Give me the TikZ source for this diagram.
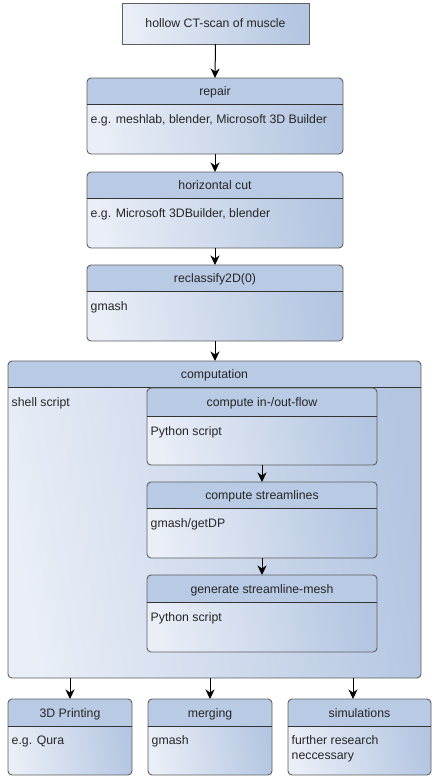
\documentclass[tikz,border=0pt]{standalone}
\usepackage{fontspec}
\setmainfont{Liberation Sans}
\usetikzlibrary{arrows.meta}
\definecolor{hdr}{HTML}{B8CAE4}
\definecolor{gdark}{HTML}{B3C5E1}
\definecolor{glight}{HTML}{E9EEF7}
\definecolor{bord}{HTML}{5E5E5E}
\definecolor{sepcol}{HTML}{333333}
\definecolor{txt}{HTML}{262626}
\tikzset{
 boxshade/.style={inner sep=0pt, outer sep=0pt, top color=gdark, bottom color=glight, shading angle=-80},
 boxborder/.style={draw=bord, line width=0.9pt},
 titletxt/.style={font=\fontsize{12.3}{15}\selectfont, anchor=base, inner sep=0pt, text=txt},
 bodytxt/.style={font=\fontsize{12.3}{15}\selectfont, anchor=base west, inner sep=0pt, align=left, text=txt},
 arr/.style={-{Stealth[length=9.5pt,width=9pt,inset=3pt]}, line width=1pt, black},
}
% name, x1, y1, x2, y2, yh, title, body, baseline offset of last body line
\newcommand\umlbox[9]{%
 \node[boxshade, rounded corners=4pt, minimum width={(#4-#2)*1pt}, minimum height={(#5-#3)*1pt}] (#1) at ({(#2+#4)/2},{(#3+#5)/2}) {};
 \begin{scope}
 \clip[rounded corners=4pt] (#2,#3) rectangle (#4,#5);
 \fill[hdr] (#2,#3) rectangle (#4,#6);
 \end{scope}
 \draw[boxborder, rounded corners=4pt] (#1.north west) rectangle (#1.south east);
 \draw[sepcol, line width=0.9pt] (#2,#6) -- (#4,#6);
 \node[titletxt] (#1-t) at ({(#2+#4)/2},{(#3+#6)/2+4.5}) {#7};
 \node[bodytxt] (#1-b) at ({#2+3.5},{#6+#9}) {#8};
}
\begin{document}
\begin{tikzpicture}[x=1pt,y=-1pt]
\useasboundingbox (0,0) rectangle (440,777);
\node[boxshade, draw=bord, line width=0.9pt, minimum width=187pt, minimum height=41pt,
  font=\fontsize{12.3}{15}\selectfont, text=txt] (scan) at (215.5,23.5) {hollow CT-scan of muscle};
\umlbox{repair}{87}{78}{343}{154}{104}{repair}{e.g. meshlab, blender, Microsoft 3D Builder}{19}
\umlbox{hcut}{87}{172}{343}{248}{198}{horizontal cut}{e.g. Microsoft 3DBuilder, blender}{19}
\umlbox{reclass}{87}{265}{343}{341}{291}{reclassify2D(0)}{gmash}{19}
\umlbox{comp}{8}{361}{421}{678}{387}{computation}{shell script}{19}
\umlbox{inflow}{147}{388}{377}{465}{416}{compute in-/out-flow}{Python script}{19}
\umlbox{stream}{147}{482}{377}{558}{508}{compute streamlines}{gmash/getDP}{19}
\umlbox{gen}{147}{575}{377}{652}{602}{generate streamline-mesh}{Python script}{19}
\umlbox{print}{8}{699}{132}{775}{726}{3D Printing}{e.g. Qura}{18.5}
\umlbox{merge}{148}{699}{272}{775}{726}{merging}{gmash}{18.5}
\umlbox{sim}{288}{699}{431}{775}{726}{simulations}{further research\\neccessary}{33.5}
\coordinate (s3) at (353,700);
\draw[arr] (scan.south) -- (repair.north);
\draw[arr] (repair.south) -- (hcut.north);
\draw[arr] (hcut.south) -- (reclass.north);
\draw[arr] (reclass.south) -- (comp.north -| reclass.south);
\draw[arr] (inflow.south) -- (stream.north);
\draw[arr] (stream.south) -- (gen.north);
\draw[arr] (comp.south -| print.north) -- (print.north);
\draw[arr] (comp.south -| merge.north) -- (merge.north);
\draw[arr] (comp.south -| s3) -- (sim.north -| s3);
\end{tikzpicture}
\end{document}
